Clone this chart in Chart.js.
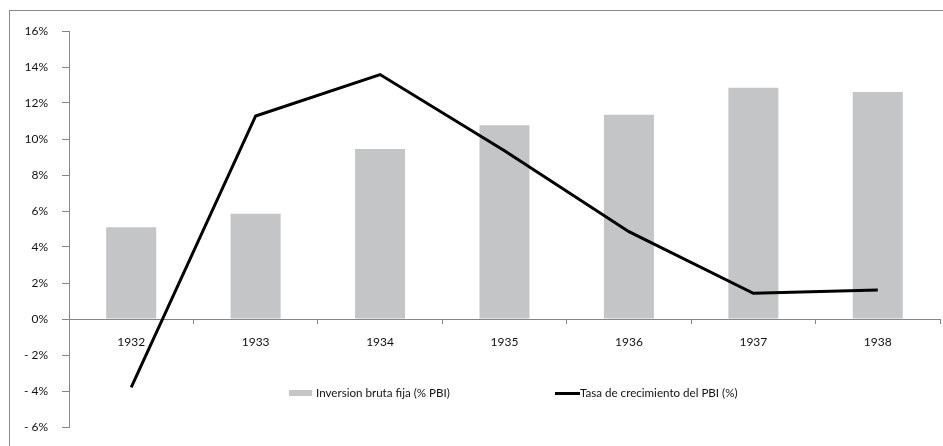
<!DOCTYPE html>
<html>
<head>
<meta charset="utf-8">
<script src="https://cdn.jsdelivr.net/npm/chart.js@4/dist/chart.umd.min.js"></script>
<style>
  html, body { margin: 0; padding: 0; background: #fff; overflow: hidden; }
  #wrap { position: relative; width: 943px; height: 446px; }
  #frame { position: absolute; left: 9px; top: 10px; width: 1000px; height: 500px; border: 1px solid #8a8a8a; box-sizing: border-box; pointer-events: none; }
  canvas { position: absolute; left: 0; top: 0; }
  .leg { position: absolute; font-family: Lato, sans-serif; font-size: 11.6px; color: #111; line-height: 14px; white-space: nowrap; }
  .sw { position: absolute; }
</style>
</head>
<body>
<div id="wrap">
  <canvas id="c" width="943" height="446"></canvas>
  <div id="frame"></div>
  <div class="sw" style="left:289px;top:390px;width:23px;height:6px;background:#c4c5c7"></div>
  <div class="leg" id="l1" style="left:316px;top:386px"></div>
  <div class="sw" style="left:555px;top:392px;width:25px;height:3px;background:#000"></div>
  <div class="leg" id="l2" style="left:580px;top:386px"></div>
</div>
<script>
const categories = ['1932', '1933', '1934', '1935', '1936', '1937', '1938'];
const inversionValues = [5.1, 5.85, 9.44, 10.77, 11.35, 12.85, 12.61];
const crecimientoValues = [-3.8, 11.28, 13.58, 9.35, 4.85, 1.43, 1.61];
const seriesNames = ['Inversion bruta fija (% PBI)', 'Tasa de crecimiento del PBI (%)'];
const yTickValues = [-6, -4, -2, 0, 2, 4, 6, 8, 10, 12, 14, 16];
const yTickLabels = ['- 6%', '- 4%', '- 2%', '0%', '2%', '4%', '6%', '8%', '10%', '12%', '14%', '16%'];

document.getElementById('l1').textContent = seriesNames[0];
document.getElementById('l2').textContent = seriesNames[1];

const axisColor = '#868686';
const tickFont = { family: 'Lato', size: 12 };

new Chart(document.getElementById('c'), {
  data: {
    labels: categories,
    datasets: [
      {
        type: 'bar',
        label: seriesNames[0],
        data: inversionValues,
        backgroundColor: '#c4c5c7',
        borderWidth: 0,
        categoryPercentage: 1,
        barPercentage: 0.402,
        order: 2
      },
      {
        type: 'line',
        label: seriesNames[1],
        data: crecimientoValues,
        borderColor: '#000',
        borderWidth: 3,
        pointRadius: 0,
        tension: 0,
        fill: false,
        order: 1
      }
    ]
  },
  options: {
    responsive: false,
    animation: false,
    layout: { padding: { left: 9, top: 31, right: 3, bottom: 19 } },
    plugins: { legend: { display: false }, tooltip: { enabled: false } },
    scales: {
      x: {
        position: { y: 0 },
        offset: true,
        afterFit: s => { s.height = 0; },
        grid: { offset: true, drawOnChartArea: false, drawTicks: true, tickLength: 4, color: axisColor },
        border: { display: true, color: axisColor, width: 1 },
        ticks: { font: tickFont, color: '#111', padding: 12, maxRotation: 0 }
      },
      y: {
        min: -6,
        max: 16,
        afterFit: s => { s.width = 60; s.paddingTop = 0; s.paddingBottom = 0; },
        afterBuildTicks: s => { s.ticks = yTickValues.map(v => ({ value: v })); },
        grid: { drawOnChartArea: false, drawTicks: true, tickLength: 7, color: axisColor },
        border: { display: true, color: axisColor, width: 1 },
        ticks: {
          font: tickFont,
          color: '#111',
          padding: 14,
          callback: (v) => { const i = yTickValues.indexOf(v); return i >= 0 ? yTickLabels[i] : ''; }
        }
      }
    }
  }
});
</script>
</body>
</html>
